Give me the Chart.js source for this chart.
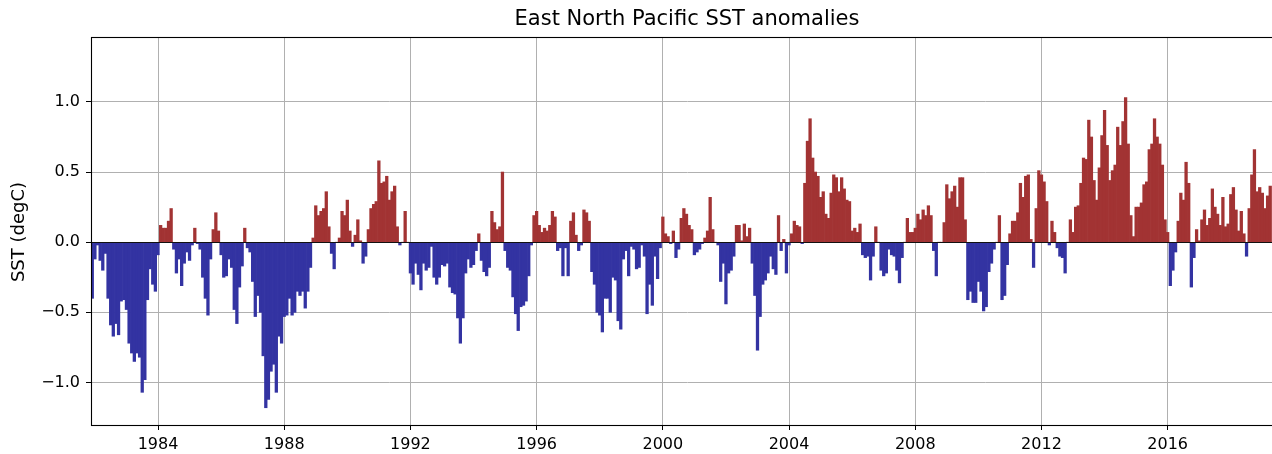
<!DOCTYPE html>
<html>
<head>
<meta charset="utf-8">
<script src="https://cdn.jsdelivr.net/npm/chart.js@4.4.1/dist/chart.umd.min.js"></script>
<style>
html,body{margin:0;padding:0;overflow:hidden;background:#fff;width:1272px;height:454px;}
#wrap{width:1290px;height:454px;}
canvas{display:block;}
</style>
</head>
<body>
<div id="wrap"><canvas id="c" width="1290" height="454"></canvas></div>
<script>
// ---- chart text ----
const chartTitle = 'East North Pacific SST anomalies';
const yAxisLabel = 'SST (degC)';

// ---- time axis: monthly values, first value = Dec 1981 ----
const startYear = 1981;
const startMonth = 12;

// ---- monthly SST anomalies (degC) ----
// Dec 1981 .. Dec 1989
const sst1980s = [
  -0.40,
  -0.12, -0.02, -0.13, -0.20, -0.08, -0.40, -0.59, -0.67, -0.58, -0.66, -0.42, -0.41,
  -0.48, -0.72, -0.79, -0.85, -0.79, -0.82, -1.07, -0.98, -0.41, -0.19, -0.30, -0.35,
  -0.09,  0.12,  0.10,  0.10,  0.15,  0.24, -0.05, -0.22, -0.12, -0.31, -0.15, -0.07,
  -0.13, -0.02,  0.10, -0.01, -0.05, -0.25, -0.40, -0.52, -0.12,  0.09,  0.21,  0.08,
  -0.09, -0.25, -0.24, -0.12, -0.18, -0.48, -0.58, -0.32, -0.17,  0.10, -0.04, -0.07,
  -0.28, -0.53, -0.38, -0.50, -0.81, -1.18, -1.12, -0.92, -0.87, -1.07, -0.67, -0.72,
  -0.53, -0.52, -0.40, -0.52, -0.50, -0.35, -0.38, -0.35, -0.47, -0.35, -0.18,  0.03,
   0.26,  0.19,  0.22,  0.24,  0.36,  0.11, -0.08, -0.19,  0.00,  0.03,  0.22,  0.19
];
// Jan 1990 .. Dec 1999
const sst1990s = [
   0.30,  0.08, -0.03,  0.05,  0.16,  0.01, -0.15, -0.10,  0.09,  0.24,  0.27,  0.29,
   0.58,  0.42,  0.43,  0.47,  0.30,  0.36,  0.40,  0.11, -0.02,  0.00,  0.22,  0.00,
  -0.22, -0.30, -0.15, -0.23, -0.34, -0.15, -0.20, -0.18, -0.03, -0.25, -0.30, -0.25,
  -0.16, -0.17, -0.15, -0.32, -0.36, -0.37, -0.54, -0.72, -0.54, -0.22, -0.12, -0.18,
  -0.16, -0.06,  0.06, -0.13, -0.21, -0.24, -0.18,  0.22,  0.14,  0.09,  0.11,  0.50,
  -0.06, -0.18, -0.20, -0.39, -0.51, -0.63, -0.46, -0.45, -0.42, -0.24, -0.02,  0.19,
   0.22,  0.12,  0.07,  0.10,  0.08,  0.12,  0.22,  0.18, -0.06, -0.04, -0.24, -0.04,
  -0.24,  0.15,  0.21,  0.05, -0.06, -0.02,  0.23,  0.21,  0.15, -0.21, -0.30, -0.50,
  -0.52, -0.64, -0.40, -0.40, -0.50, -0.25, -0.27, -0.56, -0.62, -0.12, -0.06, -0.24,
  -0.03, -0.05, -0.19, -0.18, -0.02, -0.10, -0.51, -0.30, -0.45, -0.10, -0.26, -0.04
];
// Jan 2000 .. Dec 2009
const sst2000s = [
   0.18,  0.06,  0.04, -0.01,  0.08, -0.11, -0.05,  0.17,  0.24,  0.20,  0.12,  0.09,
  -0.09, -0.07, -0.05, -0.01,  0.03,  0.08,  0.32,  0.09,  0.00, -0.02, -0.28, -0.15,
  -0.44, -0.22, -0.20, -0.10,  0.12,  0.12,  0.01,  0.13,  0.04,  0.10, -0.15, -0.38,
  -0.77, -0.53, -0.30, -0.27, -0.22, -0.10, -0.19, -0.23,  0.19, -0.06,  0.02, -0.22,
  -0.02,  0.06,  0.15,  0.12,  0.11, -0.01,  0.42,  0.72,  0.88,  0.60,  0.50,  0.47,
   0.32,  0.36,  0.20,  0.17,  0.35,  0.48,  0.46,  0.36,  0.46,  0.38,  0.30,  0.29,
   0.08,  0.10,  0.07,  0.13, -0.09, -0.11, -0.10, -0.27, -0.10,  0.11,  0.00, -0.20,
  -0.24, -0.22, -0.05, -0.09, -0.10, -0.20, -0.29, -0.11,  0.00,  0.17,  0.07,  0.07,
   0.10,  0.20,  0.16,  0.23,  0.19,  0.26,  0.19, -0.06, -0.24,  0.00,  0.00,  0.14,
   0.41,  0.31,  0.36,  0.40,  0.25,  0.46,  0.46,  0.16, -0.41, -0.35, -0.43, -0.43
];
// Jan 2010 .. Apr 2019
const sst2010s = [
  -0.28, -0.35, -0.49, -0.46, -0.21, -0.15, -0.05,  0.00,  0.19, -0.41, -0.38, -0.16,
   0.06,  0.15,  0.15,  0.21,  0.42,  0.32,  0.47,  0.48,  0.02, -0.18,  0.24,  0.51,
   0.48,  0.43,  0.29, -0.02,  0.15,  0.07, -0.04, -0.10, -0.11, -0.22,  0.00,  0.16,
   0.07,  0.25,  0.26,  0.42,  0.60,  0.59,  0.87,  0.75,  0.44,  0.30,  0.53,  0.76,
   0.94,  0.69,  0.44,  0.51,  0.55,  0.82,  0.69,  0.86,  1.03,  0.70,  0.19,  0.04,
   0.25,  0.25,  0.28,  0.41,  0.43,  0.66,  0.70,  0.88,  0.75,  0.70,  0.55,  0.16,
   0.07, -0.31, -0.20, -0.07,  0.15,  0.35,  0.30,  0.57,  0.42, -0.32, -0.11,  0.09,
   0.01,  0.16,  0.23,  0.12,  0.17,  0.38,  0.25,  0.20,  0.12,  0.32,  0.11,  0.13,
   0.34,  0.39,  0.23,  0.08,  0.22,  0.06, -0.10,  0.24,  0.48,  0.66,  0.36,  0.39,
   0.35,  0.24,  0.33,  0.40
];

// ---- axis ticks ----
const xTickYears = [1984, 1988, 1992, 1996, 2000, 2004, 2008, 2012, 2016];
const yTickValues = [-1.0, -0.5, 0.0, 0.5, 1.0];
const yTickLabels = ['\u22121.0', '\u22120.5', '0.0', '0.5', '1.0'];

// ---- axis limits ----
const xMin = 1981.8765, xMax = 2019.655;
const yMin = -1.303, yMax = 1.4626;

// ---- colours ----
const warmColor = '#a23333';
const coldColor = '#3333a2';

const sstValues = [].concat(sst1980s, sst1990s, sst2000s, sst2010s);
const monthTimes = sstValues.map((v, i) => startYear + (startMonth - 1) / 12 + i / 12);
const points = sstValues.map((v, i) => ({ x: monthTimes[i], y: v }));

const FONT = "'DejaVu Sans', sans-serif";

const decorPlugin = {
  id: 'decor',
  afterDraw(chart) {
    const ctx = chart.ctx;
    const a = chart.chartArea;
    const ys = chart.scales.y;
    ctx.save();
    // zero line
    const y0 = Math.round(ys.getPixelForValue(0)) + 0.5;
    ctx.strokeStyle = '#111';
    ctx.lineWidth = 1.2;
    ctx.beginPath();
    ctx.moveTo(a.left, y0); ctx.lineTo(a.right, y0); ctx.stroke();
    // frame
    ctx.strokeStyle = '#000';
    ctx.lineWidth = 1.1;
    ctx.strokeRect(Math.round(a.left) + 0.5, Math.round(a.top) + 0.5,
                   Math.round(a.right - a.left), Math.round(a.bottom - a.top));
    // title
    ctx.fillStyle = '#000';
    ctx.font = '21px ' + FONT;
    ctx.textAlign = 'center';
    ctx.textBaseline = 'middle';
    ctx.fillText(chartTitle, (a.left + a.right) / 2, 20);
    // y label
    ctx.font = '18px ' + FONT;
    ctx.translate(19, (a.top + a.bottom) / 2 + 1);
    ctx.rotate(-Math.PI / 2);
    ctx.fillText(yAxisLabel, 0, 0);
    ctx.restore();
  }
};

new Chart(document.getElementById('c').getContext('2d'), {
  type: 'bar',
  data: {
    datasets: [{
      data: points,
      backgroundColor: sstValues.map(v => v >= 0 ? warmColor : coldColor),
      borderWidth: 0,
      barPercentage: 1.0,
      categoryPercentage: 1.0
    }]
  },
  options: {
    responsive: false,
    animation: false,
    devicePixelRatio: 1,
    layout: { padding: { top: 37, right: 7, left: 0, bottom: 0 } },
    plugins: { legend: { display: false }, title: { display: false }, tooltip: { enabled: false } },
    scales: {
      x: {
        type: 'linear', min: xMin, max: xMax, offset: false, z: 1,
        grid: { color: '#b0b0b0', lineWidth: 1, offset: false, drawTicks: true,
                tickLength: 5, tickColor: '#000', tickWidth: 1 },
        border: { display: true, color: '#000', width: 1 },
        ticks: { font: { family: FONT, size: 16 }, color: '#000', padding: 5,
                 maxRotation: 0, autoSkip: false, callback: v => String(v) },
        afterBuildTicks: s => { s.ticks = xTickYears.map(v => ({ value: v })); },
        afterFit: s => { s.height = 29; }
      },
      y: {
        type: 'linear', min: yMin, max: yMax, z: 1,
        grid: { color: '#b0b0b0', lineWidth: 1, drawTicks: true,
                tickLength: 5, tickColor: '#000', tickWidth: 1 },
        border: { display: true, color: '#000', width: 1 },
        ticks: { font: { family: FONT, size: 16 }, color: '#000', padding: 6,
                 autoSkip: false,
                 callback: v => { const i = yTickValues.findIndex(t => Math.abs(t - v) < 1e-9); return i >= 0 ? yTickLabels[i] : ''; } },
        afterBuildTicks: s => { s.ticks = yTickValues.map(v => ({ value: v })); },
        afterFit: s => { s.width = 91; }
      }
    }
  },
  plugins: [decorPlugin]
});
</script>
</body>
</html>
